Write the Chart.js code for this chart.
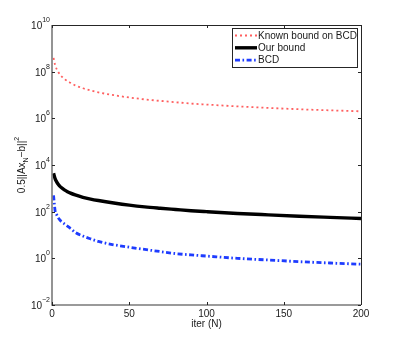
<!DOCTYPE html>
<html><head><meta charset="utf-8">
<script src="https://cdn.jsdelivr.net/npm/chart.js@4/dist/chart.umd.min.js"></script>
<style>html,body{margin:0;padding:0;background:#fff;overflow:hidden}#w{width:399px;height:343px;position:relative}</style>
</head><body><div id="w"><canvas id="c" width="399" height="343"></canvas></div>
<script>
const iterN      = [1, 2, 3, 4, 5, 6, 8, 10, 12, 15, 20, 25, 30, 40, 50, 60, 70, 80, 90, 100, 120, 140, 160, 180, 200];
const knownBound = [3.9e8, 1.95e8, 1.3e8, 9.8e7, 7.8e7, 6.5e7, 4.9e7, 3.9e7, 3.3e7, 2.6e7, 1.95e7, 1.56e7, 1.3e7, 9.8e6, 7.8e6, 6.5e6, 5.6e6, 4.9e6, 4.3e6, 3.9e6, 3.25e6, 2.8e6, 2.45e6, 2.2e6, 2.0e6];
const ourBound   = [4400, 2600, 1900, 1500, 1250, 1080, 860, 720, 620, 520, 410, 345, 300, 235, 190, 160, 140, 124, 110, 100, 84, 73, 64, 57, 51];
const bcd        = [500, 110, 75, 55, 45, 38, 30, 24, 19, 13, 9, 6.8, 5.3, 3.8, 3.0, 2.4, 1.95, 1.6, 1.4, 1.25, 1.0, 0.85, 0.72, 0.63, 0.56];
const xTickValues = [0, 50, 100, 150, 200];
const yTickExponents = [-2, 0, 2, 4, 6, 8, 10];
const seriesLabels = ['Known bound on BCD', 'Our bound', 'BCD'];
const xTitle = 'iter (N)';
const yTitleParts = [['0.5||Ax', 0], ['N', 1], ['\u2212b||', 0], ['2', -1]];

const FONT = '"Liberation Sans", Arial, Helvetica, sans-serif';
const styles = [
  {color: 'rgb(255,95,95)', width: 1.8, dash: [2, 3]},
  {color: '#000000', width: 3.4, dash: []},
  {color: '#1e3cff', width: 2.8, dash: [5, 2.5, 1.6, 2.5]}
];
const seriesValues = [knownBound, ourBound, bcd];

const datasets = seriesValues.map((vals, i) => ({
  label: seriesLabels[i],
  data: iterN.map((n, j) => ({x: n, y: vals[j]})),
  borderColor: styles[i].color,
  borderWidth: styles[i].width,
  borderDash: styles[i].dash,
  pointRadius: 0,
  fill: false,
  cubicInterpolationMode: 'monotone',
  borderCapStyle: 'butt'
}));

const decor = {
  id: 'decor',
  afterDraw(chart) {
    const ctx = chart.ctx, ca = chart.chartArea, xs = chart.scales.x, ys = chart.scales.y;
    ctx.save();
    // box
    ctx.lineWidth = 1;
    ctx.strokeStyle = '#262626';
    ctx.beginPath();
    ctx.moveTo(ca.left, Math.round(ca.top) + 0.5); ctx.lineTo(ca.right, Math.round(ca.top) + 0.5);
    ctx.moveTo(Math.round(ca.right) + 0.5, ca.top); ctx.lineTo(Math.round(ca.right) + 0.5, ca.bottom);
    ctx.stroke();
    ctx.strokeStyle = '#7a7a7a';
    ctx.lineWidth = 1.6;
    ctx.beginPath();
    ctx.moveTo(ca.left, ca.top); ctx.lineTo(ca.left, ca.bottom);
    ctx.lineTo(ca.right, ca.bottom);
    ctx.stroke();
    // ticks
    ctx.strokeStyle = '#262626';
    ctx.lineWidth = 1;
    ctx.beginPath();
    xTickValues.forEach(v => {
      const x = Math.round(xs.getPixelForValue(v)) + 0.5;
      ctx.moveTo(x, ca.bottom); ctx.lineTo(x, ca.bottom - 3);
      ctx.moveTo(x, ca.top); ctx.lineTo(x, ca.top + 3);
    });
    yTickExponents.forEach(e => {
      const y = Math.round(ys.getPixelForValue(Math.pow(10, e))) + 0.5;
      ctx.moveTo(ca.left, y); ctx.lineTo(ca.left + 3, y);
      ctx.moveTo(ca.right, y); ctx.lineTo(ca.right - 3, y);
    });
    ctx.stroke();
    // x tick labels
    ctx.fillStyle = '#1a1a1a';
    ctx.font = '10px ' + FONT;
    ctx.textAlign = 'center';
    ctx.textBaseline = 'top';
    xTickValues.forEach(v => ctx.fillText(String(v), xs.getPixelForValue(v), ca.bottom + 4));
    ctx.fillText(xTitle, (ca.left + ca.right) / 2, ca.bottom + 14);
    // y tick labels 10^e
    ctx.textBaseline = 'alphabetic';
    ctx.textAlign = 'left';
    yTickExponents.forEach(e => {
      const y = ys.getPixelForValue(Math.pow(10, e));
      const es = e < 0 ? '\u2212' + Math.abs(e) : String(e);
      ctx.font = '7px ' + FONT;
      const ew = ctx.measureText(es).width;
      ctx.font = '10px ' + FONT;
      const bw = ctx.measureText('10').width;
      const right = ca.left - 2;
      ctx.fillText('10', right - ew - bw, y + 4);
      ctx.font = '7px ' + FONT;
      ctx.fillText(es, right - ew, y - 3);
    });
    // y title
    ctx.save();
    ctx.translate(22, (ca.top + ca.bottom) / 2);
    ctx.rotate(-Math.PI / 2);
    let total = 0;
    yTitleParts.forEach(([t, s]) => { ctx.font = (s ? '7px ' : '10px ') + FONT; total += ctx.measureText(t).width; });
    let cx = -total / 2;
    yTitleParts.forEach(([t, s]) => {
      ctx.font = (s ? '7px ' : '10px ') + FONT;
      const dy = s === 1 ? 3 : (s === -1 ? -6 : 0);
      ctx.fillText(t, cx, 3 + dy);
      cx += ctx.measureText(t).width;
    });
    ctx.restore();
    // legend
    const lx = 232, ly = 28, lw = 125, lh = 39;
    ctx.fillStyle = '#fff';
    ctx.fillRect(lx, ly, lw, lh);
    ctx.strokeStyle = '#262626';
    ctx.lineWidth = 1;
    ctx.strokeRect(lx + 0.5, ly + 0.5, lw, lh);
    chart.data.datasets.forEach((ds, i) => {
      const y = ly + 7.5 + i * 12.3;
      ctx.strokeStyle = ds.borderColor;
      ctx.lineWidth = ds.borderWidth;
      ctx.setLineDash(ds.borderDash);
      ctx.beginPath();
      ctx.moveTo(lx + 3, y); ctx.lineTo(lx + 25, y);
      ctx.stroke();
      ctx.setLineDash([]);
      ctx.fillStyle = '#1a1a1a';
      ctx.font = '10px ' + FONT;
      ctx.textBaseline = 'middle';
      ctx.textAlign = 'left';
      ctx.fillText(ds.label, lx + 26, y + 0.5);
    });
    ctx.restore();
  }
};

new Chart(document.getElementById('c'), {
  type: 'line',
  data: {datasets},
  options: {
    responsive: false,
    devicePixelRatio: 1,
    animation: false,
    layout: {padding: {left: 0, right: 38, top: 25, bottom: 0}},
    plugins: {legend: {display: false}, tooltip: {enabled: false}},
    scales: {
      x: {
        type: 'linear', min: 0, max: 200,
        ticks: {display: false},
        grid: {display: false},
        border: {display: false},
        afterFit(s) { s.height = 38; }
      },
      y: {
        type: 'logarithmic', min: 0.01, max: 1e10,
        ticks: {display: false},
        grid: {display: false},
        border: {display: false},
        afterFit(s) { s.width = 52; }
      }
    }
  },
  plugins: [decor]
});
</script>
</body></html>
